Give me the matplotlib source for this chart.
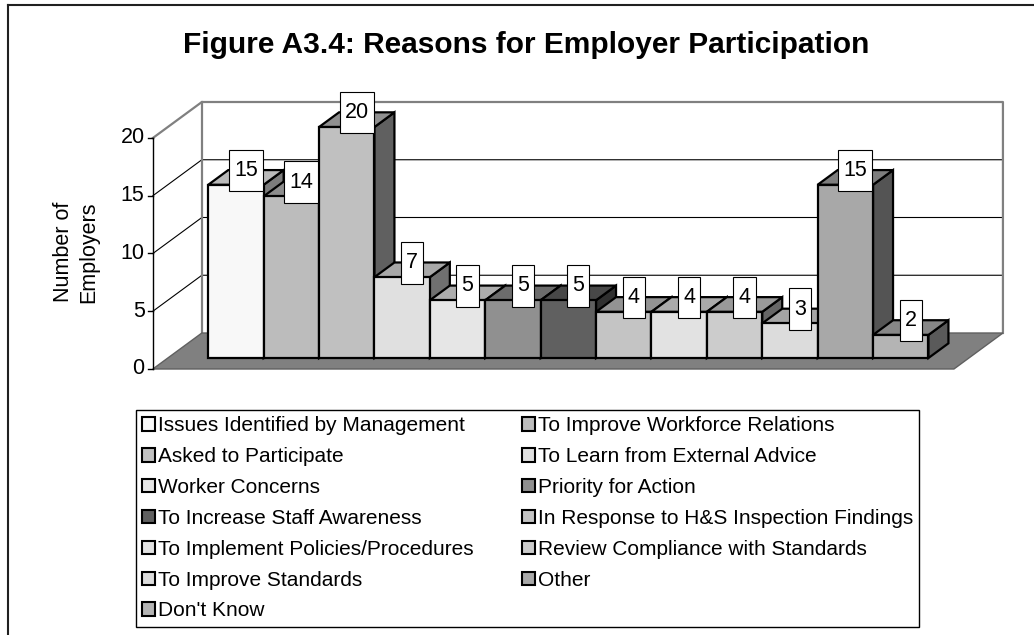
import matplotlib
matplotlib.use("Agg")
import matplotlib.pyplot as plt
from matplotlib.patches import Polygon, Patch
from matplotlib.path import Path
from matplotlib.lines import Line2D
from matplotlib.colors import to_rgb

plt.rcParams['font.family'] = ['Liberation Sans', 'DejaVu Sans']

categories = ["Issues Identified by Management", "To Improve Workforce Relations",
              "Asked to Participate", "To Learn from External Advice",
              "Worker Concerns", "Priority for Action",
              "To Increase Staff Awareness", "In Response to H&S Inspection Findings",
              "To Implement Policies/Procedures", "Review Compliance with Standards",
              "To Improve Standards", "Other", "Don't Know"]
values = [15, 14, 20, 7, 5, 5, 5, 4, 4, 4, 3, 15, 2]
colours = ["#f8f8f8", "#bcbcbc", "#c0c0c0", "#e0e0e0", "#e6e6e6", "#909090",
           "#606060", "#c4c4c4", "#e2e2e2", "#cccccc", "#dcdcdc", "#a8a8a8", "#b4b4b4"]
y_ticks = [0, 5, 10, 15, 20]

W, H = 1034, 635
fig = plt.figure(figsize=(W / 100, H / 100), dpi=100)
ax = fig.add_axes([0, 0, 1, 1])

# pixel scale of one bar slot / one unit of value, and the front-plane origin
sx, sy = 55.4, 11.55
ox, oy = 193.3, 369
ax.set_xlim(-ox / sx, (W - ox) / sx)
ax.set_ylim(-(H - oy) / sy, oy / sy)
ax.axis('off')

# oblique depth offset (full depth of the floor)
DX, DY = 49 / sx, 36 / sy

def P(x, v, d):
    return (x + d * DX, v + d * DY)

def shade(c, f):
    return tuple(f * ch for ch in to_rgb(c))

n = len(values)
x0, x1 = -0.73, n + 0.73
vmax = y_ticks[-1]
d0, d1 = 0.305, 0.713

# walls
ax.add_patch(Polygon([P(x0, 0, 1), P(x1, 0, 1), P(x1, vmax, 1), P(x0, vmax, 1)],
                     closed=True, fc='white', ec='none', zorder=1))
for v in y_ticks[1:-1]:
    ax.plot(*zip(P(x0, v, 0), P(x0, v, 1), P(x1, v, 1)), color='black', lw=0.8, zorder=2)
ax.plot(*zip(P(x0, vmax, 0), P(x0, vmax, 1), P(x1, vmax, 1), P(x1, 0, 1)),
        color='#808080', lw=1.6, zorder=3)
ax.plot(*zip(P(x0, vmax, 1), P(x0, 0, 1)), color='#808080', lw=1.6, zorder=3)

# floor
ax.add_patch(Polygon([P(x0, 0, 0), P(x0, 0, 1), P(x1, 0, 1), P(x1, 0, 0)],
                     closed=True, fc='#808080', ec='#606060', lw=1, zorder=4))

# front value axis
ax.plot([x0, x0], [0, vmax], color='black', lw=1, zorder=5)
for v in y_ticks:
    ax.plot([x0 - 0.09, x0], [v, v], color='black', lw=1, zorder=5)
    ax.text(x0 - 0.15, v, str(v), ha='right', va='center', fontsize=15.5)

# bars
for i, (v, c) in enumerate(zip(values, colours)):
    z = 10 + i
    side = [P(i + 1, 0, d0), P(i + 1, 0, d1), P(i + 1, v, d1), P(i + 1, v, d0)]
    topf = [P(i, v, d0), P(i + 1, v, d0), P(i + 1, v, d1), P(i, v, d1)]
    front = [P(i, 0, d0), P(i + 1, 0, d0), P(i + 1, v, d0), P(i, v, d0)]
    ax.add_patch(Polygon(side, closed=True, fc=shade(c, 0.5), ec='black', lw=1.6,
                         joinstyle='miter', zorder=z))
    ax.add_patch(Polygon(topf, closed=True, fc=shade(c, 0.75), ec='black', lw=1.6,
                         joinstyle='miter', zorder=z))
    ax.add_patch(Polygon(front, closed=True, fc=c, ec='black', lw=1.6,
                         joinstyle='miter', zorder=z))

def label_box(x, y, w, h, mutation_size):
    px = 0.24 * mutation_size
    hh = 0.96 * mutation_size
    cy = y + h / 2
    verts = [(x - px, cy - hh), (x + w + px, cy - hh), (x + w + px, cy + hh),
             (x - px, cy + hh), (x - px, cy - hh)]
    return Path(verts, closed=True)

for i, v in enumerate(values):
    ax.annotate(str(v), xy=P(i + 0.5, v, (d0 + d1) / 2), xytext=(0, 5),
                textcoords='offset points', ha='center', va='center', fontsize=15.5,
                bbox=dict(boxstyle=label_box, fc='white', ec='black', lw=0.8),
                zorder=100)

fig.text(183 / W, 1 - 53 / H, "Figure A3.4: Reasons for Employer Participation",
         ha='left', va='baseline', fontsize=21.5, fontweight='bold')
fig.text(76 / W, 1 - 252 / H, "Number of\nEmployers", rotation=90, ha='center',
         va='center', multialignment='center', fontsize=15.5, linespacing=1.3)

# legend (row-wise order like the original, two columns)
handles = [Patch(fc=c, ec='black', lw=1.5) for c in colours]
order = list(range(0, n, 2)) + list(range(1, n, 2))
leg = fig.legend([handles[k] for k in order], [categories[k] for k in order],
                 ncol=2, loc='upper left', bbox_to_anchor=(136 / W, 1 - 410 / H),
                 borderaxespad=0, fontsize=15, frameon=True, fancybox=False,
                 edgecolor='black', framealpha=1, borderpad=0.3, labelspacing=0.57,
                 handlelength=0.62, handleheight=0.62, handletextpad=0.15,
                 columnspacing=2.3)
leg.get_frame().set_linewidth(1)

# outer chart border (left and top)
fig.add_artist(Line2D([8 / W, 8 / W], [0, 1 - 5 / H], color='#202020', lw=1.5))
fig.add_artist(Line2D([8 / W, 1], [1 - 5 / H, 1 - 5 / H], color='#202020', lw=1.5))

fig.savefig("out.png", dpi=100)
